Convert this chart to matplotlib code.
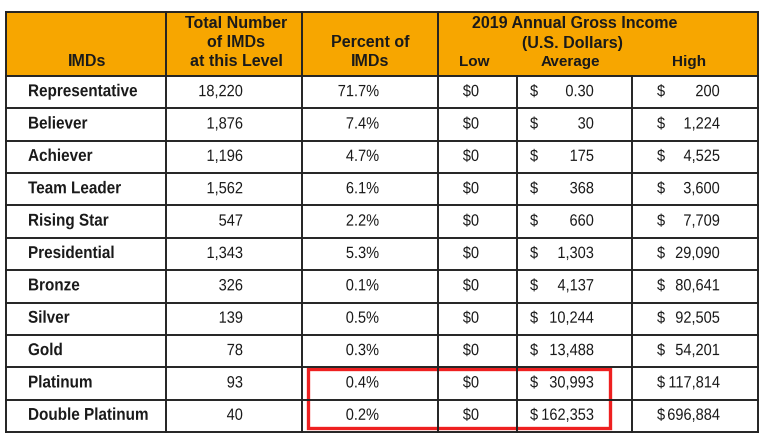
import matplotlib.pyplot as plt
from matplotlib.patches import Rectangle
from matplotlib import patheffects
from matplotlib.transforms import Affine2D

# table contents
levels = ["Representative", "Believer", "Achiever", "Team Leader", "Rising Star",
          "Presidential", "Bronze", "Silver", "Gold", "Platinum", "Double Platinum"]
imd_counts = [18220, 1876, 1196, 1562, 547, 1343, 326, 139, 78, 93, 40]
imd_percent = [71.7, 7.4, 4.7, 6.1, 2.2, 5.3, 0.1, 0.5, 0.3, 0.4, 0.2]
income_low = [0, 0, 0, 0, 0, 0, 0, 0, 0, 0, 0]
income_avg = [0.30, 30, 175, 368, 660, 1303, 4137, 10244, 13488, 30993, 162353]
income_high = [200, 1224, 4525, 3600, 7709, 29090, 80641, 92505, 54201, 117814, 696884]

W, H = 768, 443
ORANGE = "#F7A600"
LINE = "#222222"

plt.rcParams['font.family'] = ['Liberation Sans', 'DejaVu Sans']


class Stretch(patheffects.AbstractPathEffect):
    # the source table text is a bit taller than it is wide
    def __init__(self, sy):
        super().__init__()
        self.sy = sy

    def draw_path(self, renderer, gc, tpath, affine, rgbFace=None):
        renderer.draw_path(gc, tpath, Affine2D().scale(1, self.sy) + affine, rgbFace)


tall = [Stretch(1.12)]

fig = plt.figure(figsize=(W / 100, H / 100), dpi=100)
ax = fig.add_axes([0, 0, 1, 1])
ax.set_xlim(0, W)
ax.set_ylim(H, 0)
ax.axis("off")

left, right = 6, 758
top, head_bot, bottom = 12, 76, 432
cols = [left, 166, 302, 438, 517, 632, right]
n = len(levels)
row_h = (bottom - head_bot) / n

# header background
ax.add_patch(Rectangle((left, top), right - left, head_bot - top, facecolor=ORANGE, edgecolor="none"))

# header text, one line at a time
hs = 11.5
hdr = dict(ha="center", va="center", fontsize=hs, fontweight="bold", color="#1a1a1a")
ax.text(87, 61, "IMDs", **hdr)
ax.text(236, 23, "Total Number", **hdr)
ax.text(236, 42, "of IMDs", **hdr)
ax.text(236, 61, "at this Level", **hdr)
ax.text(370, 42, "Percent of", **hdr)
ax.text(370, 61, "IMDs", **hdr)
ax.text(575, 23, "2019 Annual Gross Income", **hdr)
ax.text(572, 43, "(U.S. Dollars)", **hdr)
sub = dict(hdr, fontsize=11)
ax.text(474, 62, "Low", **sub)
ax.text(570, 62, "Average", **sub)
ax.text(689, 62, "High", **sub)

# body text
fs = 10.5
body = dict(va="center", fontsize=fs, color="#1a1a1a", path_effects=tall)
for i in range(n):
    y = head_bot + row_h * (i + 0.5)
    ax.text(28, y, levels[i], ha="left", fontweight="bold", **dict(body, fontsize=11))
    ax.text(243, y, f"{imd_counts[i]:,}", ha="right", **body)
    ax.text(379, y, f"{imd_percent[i]:.1f}%", ha="right", **body)
    ax.text(471, y, f"${income_low[i]:,}", ha="center", **body)
    a = income_avg[i]
    a_txt = f"{a:.2f}" if a < 1 else f"{a:,.0f}"
    ax.text(530, y, "$", ha="left", **body)
    ax.text(594, y, a_txt, ha="right", **body)
    ax.text(657, y, "$", ha="left", **body)
    ax.text(720, y, f"{income_high[i]:,}", ha="right", **body)

# grid lines
lw = 1.4
for i in range(n + 1):
    y = head_bot + row_h * i
    ax.plot([left, right], [y, y], color=LINE, lw=lw)
ax.plot([left, right], [top, top], color=LINE, lw=lw)
for x in cols:
    y0 = top if x in (left, 166, 302, 438, right) else head_bot
    ax.plot([x, x], [y0, bottom], color=LINE, lw=lw)

# red highlight
ax.add_patch(Rectangle((308, 369), 302, 59, facecolor="none", edgecolor="#EE2020", lw=2.4))

fig.savefig("out.png", dpi=100, facecolor="white")
